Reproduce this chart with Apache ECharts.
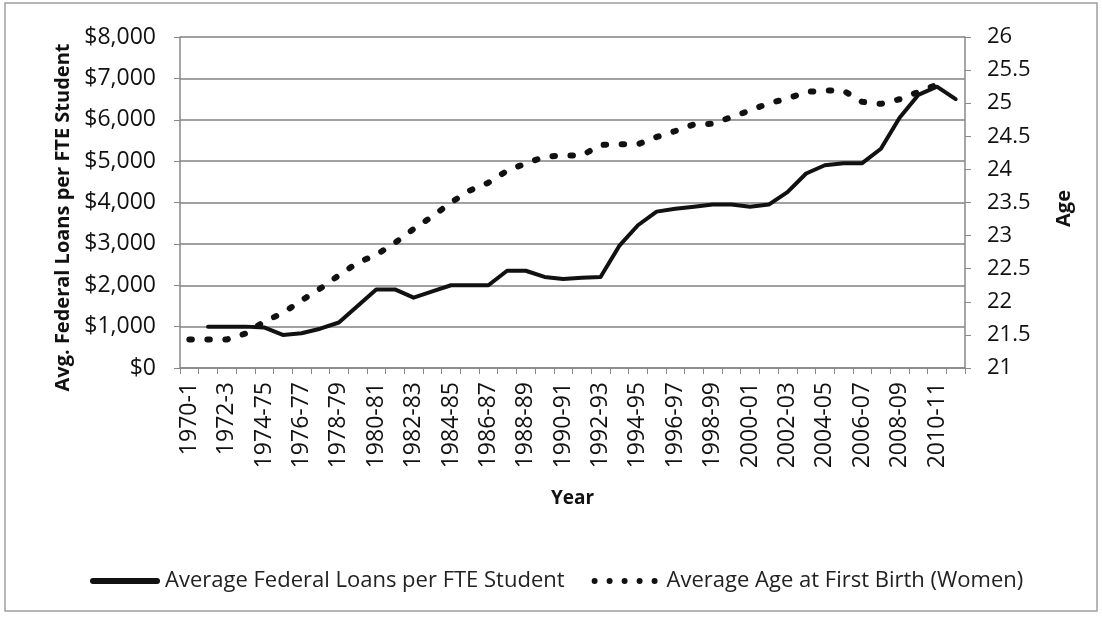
<!DOCTYPE html>
<html>
<head>
<meta charset="utf-8">
<script src="https://cdn.jsdelivr.net/npm/echarts@6/dist/echarts.min.js"></script>
<style>
html,body{margin:0;padding:0;background:#fff;}
#chart{width:1102px;height:617px;}
</style>
</head>
<body>
<div id="chart"></div>
<script>
const categories = ["1970-1","1971-2","1972-3","1973-4","1974-75","1975-76","1976-77","1977-78","1978-79","1979-80","1980-81","1981-82","1982-83","1983-84","1984-85","1985-86","1986-87","1987-88","1988-89","1989-90","1990-91","1991-92","1992-93","1993-94","1994-95","1995-96","1996-97","1997-98","1998-99","1999-00","2000-01","2001-02","2002-03","2003-04","2004-05","2005-06","2006-07","2007-08","2008-09","2009-10","2010-11","2011-12"];
const loans = [null,1000,1000,1000,980,800,840,950,1100,1500,1900,1900,1700,1850,2000,2000,2000,2350,2350,2200,2150,2180,2200,2950,3450,3780,3850,3900,3950,3950,3900,3950,4250,4700,4900,4950,4950,5300,6050,6600,6800,6500];
const ages = [21.43,21.43,21.43,21.52,21.70,21.83,22.02,22.20,22.40,22.59,22.71,22.89,23.10,23.29,23.50,23.68,23.80,23.98,24.09,24.19,24.21,24.21,24.37,24.38,24.38,24.49,24.58,24.68,24.69,24.79,24.89,25.00,25.07,25.17,25.19,25.19,25.02,24.99,25.06,25.17,25.28,null];
const seriesNames = ["Average Federal Loans per FTE Student","Average Age at First Birth (Women)"];

const FONT = "'Open Sans', sans-serif";
const solidIcon = 'path://M3,0 L67,0 A3,3 0 0,1 67,6 L3,6 A3,3 0 0,1 3,0 Z';
let dots = '';
for (const cx of [3,18,33,48,63]) {
  dots += 'M'+(cx-3)+',3 A3,3 0 1,0 '+(cx+3)+',3 A3,3 0 1,0 '+(cx-3)+',3 Z ';
}
const dotIcon = 'path://' + dots + 'M0,0 M70,6';

const chart = echarts.init(document.getElementById('chart'), null, {renderer:'canvas'});
chart.setOption({
  animation:false,
  backgroundColor:'#fff',
  textStyle:{fontFamily:FONT,color:'#111'},
  graphic:[{type:'rect',shape:{x:5,y:3,width:1092,height:608},style:{fill:'none',stroke:'#a0a0a0',lineWidth:1.5},silent:true}],
  grid:{left:180,right:137,top:37,bottom:249,containLabel:false},
  legend:{
    left:85,top:565,itemWidth:70,itemHeight:6,itemGap:27,
    textStyle:{fontFamily:FONT,fontSize:22,color:'#222'},
    data:[{name:seriesNames[0],icon:solidIcon,itemStyle:{color:'#111'}},
          {name:seriesNames[1],icon:dotIcon,itemStyle:{color:'#111'}}]
  },
  xAxis:{
    type:'category',data:categories,boundaryGap:true,
    name:'Year',nameLocation:'middle',nameGap:121,
    nameTextStyle:{fontFamily:FONT,fontWeight:'bold',fontSize:19,color:'#111'},
    axisLine:{lineStyle:{color:'#888',width:1.5}},
    axisTick:{show:true,interval:0,length:6,lineStyle:{color:'#888'}},
    axisLabel:{interval:1,rotate:90,margin:14,fontFamily:FONT,fontSize:23,color:'#111'}
  },
  yAxis:[{
    type:'value',min:0,max:8000,interval:1000,position:'left',
    name:'Avg. Federal Loans per FTE Student',nameLocation:'middle',nameGap:106,nameRotate:90,
    nameTextStyle:{fontFamily:FONT,fontWeight:'bold',fontSize:20,color:'#111',padding:[0,30,0,0]},
    axisLine:{show:true,lineStyle:{color:'#888',width:1.5}},
    axisTick:{show:true,length:6,lineStyle:{color:'#888'}},
    splitLine:{show:true,lineStyle:{color:'#828282',width:1.5}},
    axisLabel:{margin:24,fontFamily:FONT,fontSize:23,color:'#111',
      formatter:function(v){return '$'+v.toLocaleString('en-US');}}
  },{
    type:'value',min:21,max:26,interval:0.5,position:'right',
    name:'Age',nameLocation:'middle',nameGap:89,nameRotate:90,
    nameTextStyle:{fontFamily:FONT,fontWeight:'bold',fontSize:20,color:'#111',padding:[0,12,0,0]},
    axisLine:{show:true,lineStyle:{color:'#888',width:1.5}},
    axisTick:{show:true,length:6,lineStyle:{color:'#888'}},
    splitLine:{show:false},
    axisLabel:{margin:22,fontFamily:FONT,fontSize:22,color:'#111'}
  }],
  series:[{
    name:seriesNames[0],type:'line',yAxisIndex:0,data:loans,
    symbol:'none',smooth:false,connectNulls:false,
    lineStyle:{color:'#111',width:4,cap:'round',join:'round'},
    itemStyle:{color:'#111'}
  },{
    name:seriesNames[1],type:'line',yAxisIndex:1,data:ages,
    symbol:'none',smooth:false,
    lineStyle:{color:'#111',width:6,type:[2.5,15.5],cap:'round',join:'round'},
    itemStyle:{color:'#111'}
  }]
});
</script>
</body>
</html>
